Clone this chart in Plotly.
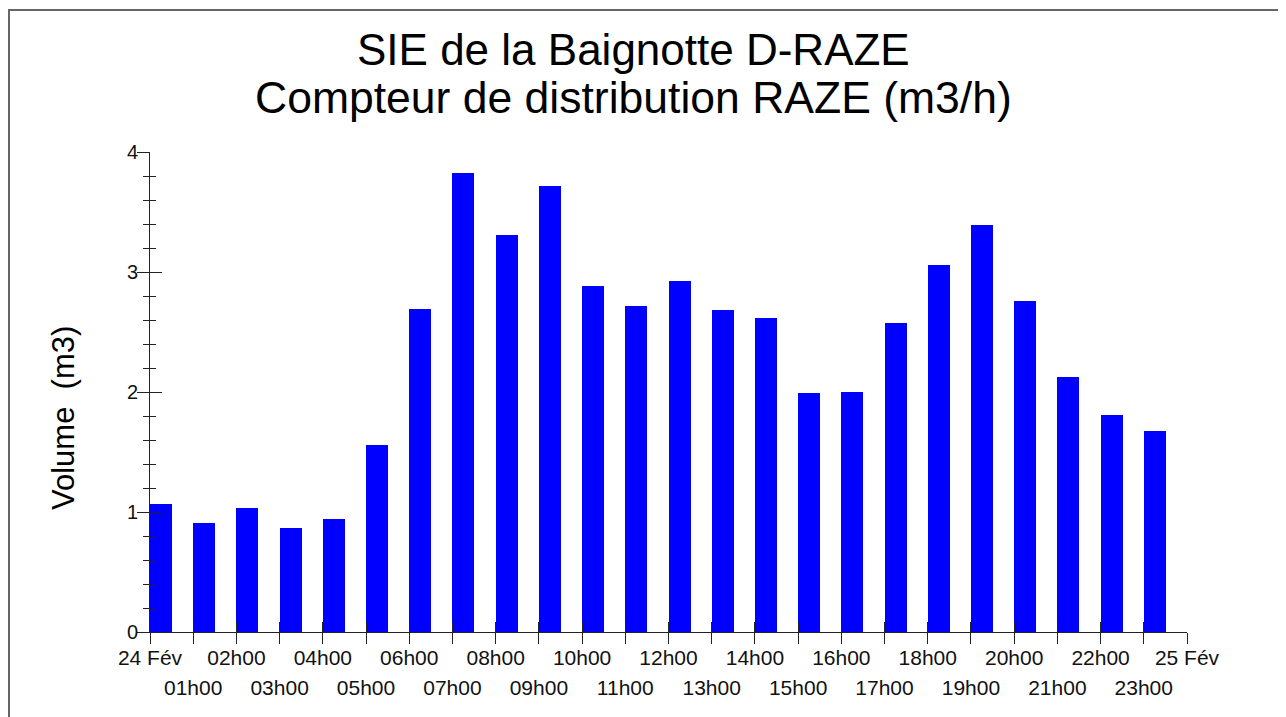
import plotly.graph_objects as go

hours = list(range(24))
volumes = [1.064, 0.906, 1.031, 0.864, 0.944, 1.558, 2.689, 3.828, 3.306, 3.717,
           2.883, 2.717, 2.922, 2.681, 2.617, 1.992, 2.003, 2.575, 3.058, 3.392,
           2.756, 2.122, 1.808, 1.675]
tick_hours = list(range(25))
tick_labels = ["24 Fév"] + ["%02dh00" % h for h in range(1, 24)] + ["25 Fév"]
top_labels = [t if i % 2 == 0 else "" for i, t in enumerate(tick_labels)]
bottom_labels = [t if i % 2 == 1 else "" for i, t in enumerate(tick_labels)]

title1 = "SIE de la Baignotte D-RAZE"
title2 = "Compteur de distribution RAZE (m3/h)"
ylabel = "Volume  (m3)"

FONT = "Liberation Sans, Arial, sans-serif"
AX = "#222222"

# page pixel -> paper coordinate helpers (plot area on page: x 150..1187, y 152..632)
def px(x):
    return (x - 150) / 1037

def py(y):
    return (632 - y) / 480

fig = go.Figure()
fig.add_trace(go.Bar(x=hours, y=volumes, width=0.51, offset=0,
                     marker=dict(color="#0000FF", line=dict(width=0)),
                     xaxis="x", yaxis="y", showlegend=False))
# empty trace to activate overlay axes
fig.add_trace(go.Scatter(x=[], y=[], xaxis="x2", yaxis="y2", showlegend=False))

fig.update_layout(
    width=1278, height=709,
    margin=dict(l=142, r=99, t=144, b=85),
    paper_bgcolor="white", plot_bgcolor="white",
    font=dict(family=FONT, color="black"),
    bargap=0,
    xaxis=dict(range=[0, 24], showgrid=False, zeroline=False,
               showline=True, linecolor=AX, linewidth=1,
               tickmode="array", tickvals=tick_hours, ticktext=top_labels,
               ticks="outside", ticklen=11, tickcolor=AX, tickwidth=1,
               ticklabelstandoff=-4,
               tickfont=dict(size=21, family=FONT, color="#111"),
               tickangle=0),
    xaxis2=dict(range=[0, 24], overlaying="x", anchor="y2", side="bottom",
                showgrid=False, zeroline=False, showline=False,
                tickmode="array", tickvals=tick_hours, ticktext=bottom_labels,
                ticks="inside", ticklen=10, tickcolor=AX, tickwidth=1,
                ticklabelstandoff=41,
                tickfont=dict(size=21, family=FONT, color="#111"),
                tickangle=0),
    yaxis=dict(range=[0, 4], showgrid=False, zeroline=False,
               showline=True, linecolor=AX, linewidth=1,
               tickmode="array", tickvals=[0, 1, 2, 3, 4],
               ticks="outside", ticklen=12, tickcolor=AX, tickwidth=1,
               ticklabelstandoff=-5,
               tickfont=dict(size=20, family=FONT, color="#111"),
               minor=dict(dtick=0.2, ticks="outside", ticklen=6, tickcolor=AX, showgrid=False)),
    yaxis2=dict(range=[0, 4], overlaying="y", anchor="x2", side="left",
                showgrid=False, zeroline=False, showline=False,
                tickmode="array", tickvals=[0, 1, 2, 3, 4], showticklabels=False,
                ticks="inside", ticklen=12, tickcolor=AX, tickwidth=1,
                minor=dict(dtick=0.2, ticks="inside", ticklen=6, tickcolor=AX, showgrid=False)),
    annotations=[
        dict(text=title1, xref="paper", yref="paper", x=px(633), y=py(49),
             xanchor="center", yanchor="middle", showarrow=False,
             font=dict(size=44, family=FONT, color="black")),
        dict(text=title2, xref="paper", yref="paper", x=px(633), y=py(98),
             xanchor="center", yanchor="middle", showarrow=False,
             font=dict(size=44.5, family=FONT, color="black")),
        dict(text=ylabel, xref="paper", yref="paper", x=px(63), y=py(418),
             xanchor="center", yanchor="middle", showarrow=False, textangle=-90,
             font=dict(size=31, family=FONT, color="black")),
    ],
    shapes=[dict(type="rect", xref="paper", yref="paper",
                 x0=px(9), x1=px(1310),
                 y0=py(740), y1=py(10),
                 line=dict(color="#666666", width=2), fillcolor="rgba(0,0,0,0)", layer="below")],
)

fig.write_html("out.html")
